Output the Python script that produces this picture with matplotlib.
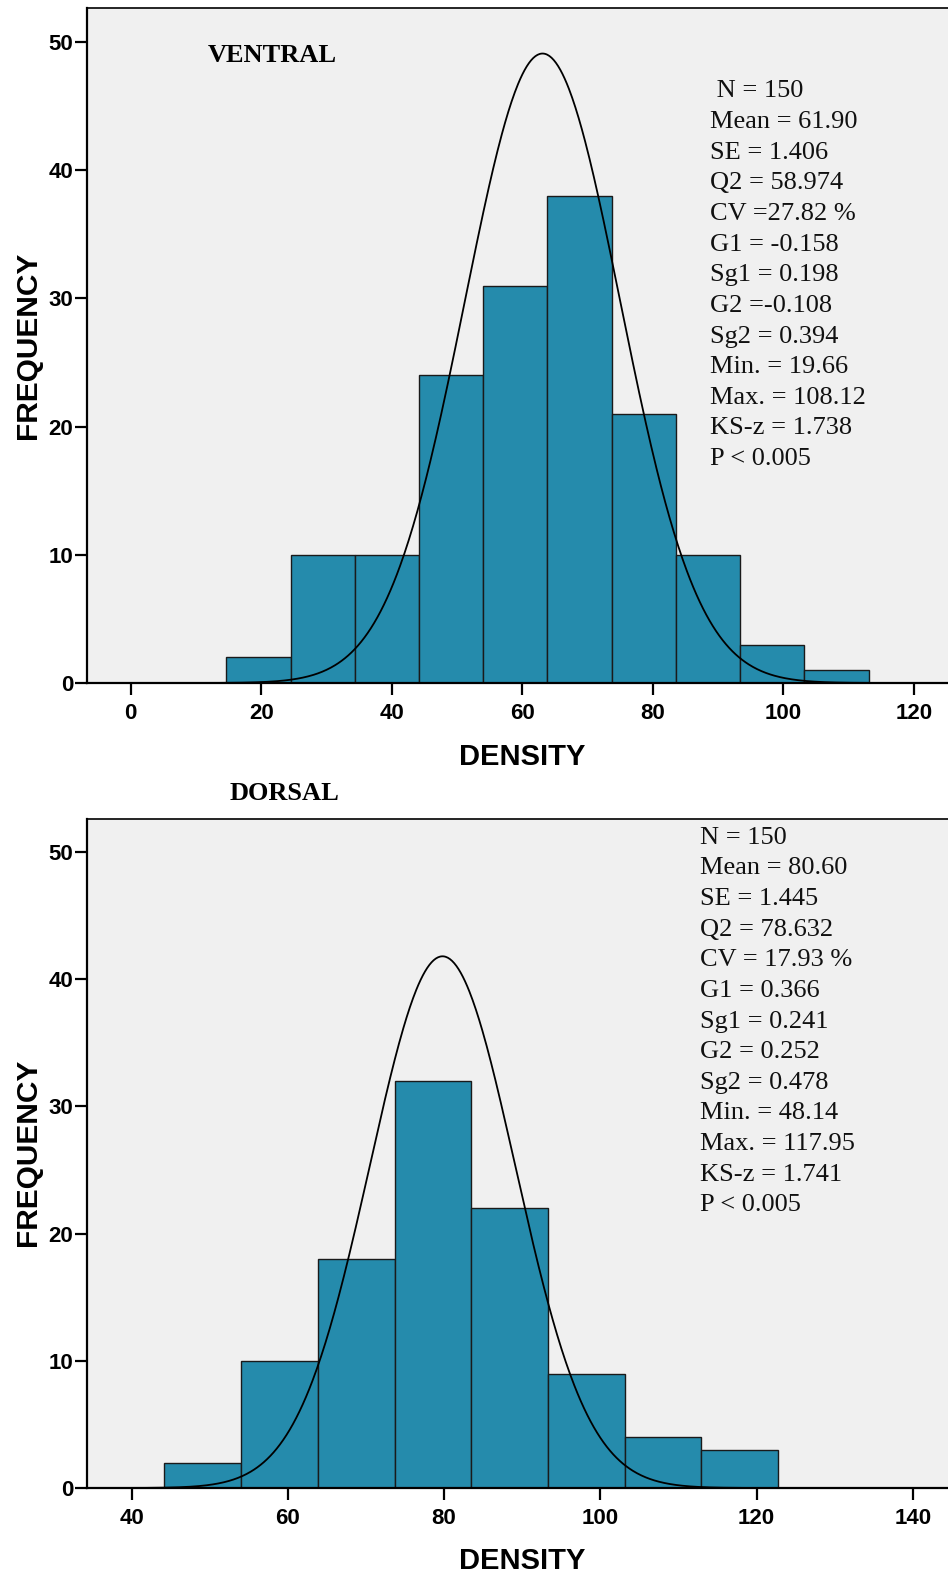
import numpy as np
import matplotlib
matplotlib.use("Agg")
import matplotlib.pyplot as plt

# ---------------- data ----------------
ventral_edges = [14.6, 24.6, 34.4, 44.2, 54.0, 63.8, 73.7, 83.5, 93.4, 103.2, 113.1]
ventral_counts = [2, 10, 10, 24, 31, 38, 21, 10, 3, 1]
ventral_curve = dict(peak=49.1, mu=63.1, sigma=11.9)
ventral_stats = [" N = 150", "Mean = 61.90", "SE = 1.406", "Q2 = 58.974", "CV =27.82 %",
                 "G1 = -0.158", "Sg1 = 0.198", "G2 =-0.108", "Sg2 = 0.394",
                 "Min. = 19.66", "Max. = 108.12", "KS-z = 1.738", "P < 0.005"]
ventral_xticks = [0, 20, 40, 60, 80, 100, 120]

dorsal_edges = [44.2, 54.0, 63.9, 73.7, 83.5, 93.3, 103.1, 112.9, 122.8]
dorsal_counts = [2, 10, 18, 32, 22, 9, 4, 3]
dorsal_curve = dict(peak=41.8, mu=79.8, sigma=9.3)
dorsal_stats = ["N = 150", "Mean = 80.60", "SE = 1.445", "Q2 = 78.632", "CV = 17.93 %",
                "G1 = 0.366", "Sg1 = 0.241", "G2 = 0.252", "Sg2 = 0.478",
                "Min. = 48.14", "Max. = 117.95", "KS-z = 1.741", "P < 0.005"]
dorsal_xticks = [40, 60, 80, 100, 120, 140]

yticks = [0, 10, 20, 30, 40, 50]

# ---------------- style ----------------
W, H = 948, 1575
DPI = 100
BAR = "#258BAC"
BG = "#F0F0F0"
SANS = ["Liberation Sans", "DejaVu Sans"]
SERIF = ["Liberation Serif", "DejaVu Serif"]

fig = plt.figure(figsize=(W / DPI, H / DPI), dpi=DPI)


def px_axes(left, top, right, bottom):
    return fig.add_axes([left / W, 1 - bottom / H, (right - left) / W, (bottom - top) / H])


def panel(ax, edges, counts, curve, xlim, ylim, xticks):
    ax.set_facecolor(BG)
    edges = np.asarray(edges)
    ax.bar(edges[:-1], counts, width=np.diff(edges), align="edge",
           color=BAR, edgecolor="#1a1a1a", linewidth=1.0, zorder=2)
    xs = np.linspace(xlim[0], xlim[1], 800)
    ys = curve["peak"] * np.exp(-0.5 * ((xs - curve["mu"]) / curve["sigma"]) ** 2)
    ax.plot(xs, ys, color="black", lw=1.3, zorder=3)
    ax.set_xlim(*xlim)
    ax.set_ylim(*ylim)
    ax.set_xticks(xticks)
    ax.set_yticks(yticks)
    for s in ["left", "bottom"]:
        ax.spines[s].set_linewidth(1.6)
    ax.spines["top"].set_linewidth(1.2)
    ax.spines["right"].set_visible(False)
    ax.tick_params(axis="x", direction="out", length=8.5, width=1.6, pad=6.0, labelsize=16)
    ax.tick_params(axis="y", direction="out", length=9.0, width=1.6, pad=1.2, labelsize=16)
    for lab in ax.get_xticklabels() + ax.get_yticklabels():
        lab.set_fontfamily(SANS)
        lab.set_fontweight("bold")


def stats_text(ax, lines, x_px, y0_px, step_px, ax_left, ax_top, ax_right, ax_bottom):
    for i, s in enumerate(lines):
        ypx = y0_px + i * step_px
        fx = (x_px - ax_left) / (ax_right - ax_left)
        fy = (ax_bottom - ypx) / (ax_bottom - ax_top)
        ax.text(fx, fy, s, transform=ax.transAxes, ha="left", va="center",
                fontsize=19, family=SERIF, color="#111111")


# top panel (ventral)
L, T1, R, B1 = 87.4, 8, 952, 683
ax1 = px_axes(L, T1, R, B1)
panel(ax1, ventral_edges, ventral_counts, ventral_curve,
      (-6.62, -6.62 + (R - L) / 6.528), (0, (B1 - T1) / 12.82), ventral_xticks)
stats_text(ax1, ventral_stats, 710, 91.4, 30.64, L, T1, R, B1)
ax1.text((272 - L) / (R - L), (B1 - 55) / (B1 - T1), "VENTRAL", transform=ax1.transAxes,
         ha="center", va="center", fontsize=19, fontweight="bold", family=SERIF)

# bottom panel (dorsal)
T2, B2 = 818.6, 1488
ax2 = px_axes(L, T2, R, B2)
panel(ax2, dorsal_edges, dorsal_counts, dorsal_curve,
      (34.35, 34.35 + (R - L) / 7.813), (0, (B2 - T2) / 12.72), dorsal_xticks)
stats_text(ax2, dorsal_stats, 700, 837.7, 30.64, L, T2, R, B2)
fig.text(285 / W, 1 - 794 / H, "DORSAL", ha="center", va="center",
         fontsize=19, fontweight="bold", family=SERIF)

# axis titles
for yc in (757, 1561):
    fig.text(522 / W, 1 - yc / H, "DENSITY", ha="center", va="center",
             fontsize=21, fontweight="bold", family=SANS)
for yc in (345, 1152):
    fig.text(28 / W, 1 - yc / H, "FREQUENCY", ha="center", va="center",
             rotation=90, fontsize=21.5, fontweight="bold", family=SANS)

fig.savefig("out.png", dpi=DPI, facecolor="white")
